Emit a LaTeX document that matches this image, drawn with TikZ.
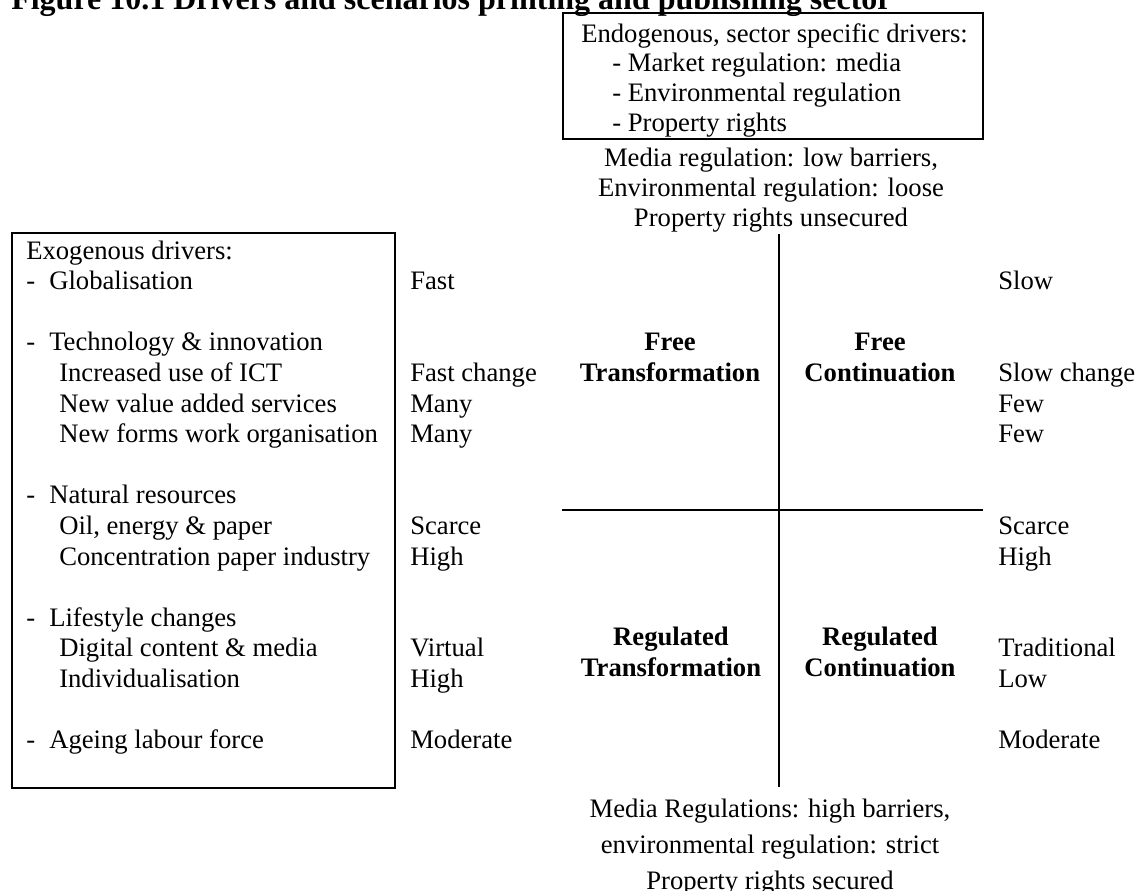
\documentclass[tikz,border=0pt]{standalone}
\usepackage{fontspec}
\setmainfont{Liberation Serif}
\usetikzlibrary{positioning,calc}
\newcommand\dsh{\makebox[17.25pt][l]{-}}
\newcommand\ind{\hspace*{24.75pt}}
\tikzset{every node/.style={inner sep=0pt,font=\fontsize{20}{22.95}\selectfont},
 txt/.style={anchor=base west,align=left},
 mid/.style={anchor=base,align=center},
 scen/.style={mid,font=\fontsize{20}{22.95}\selectfont\bfseries},
 frame/.style={draw,line width=1.5pt},
 axis/.style={line width=1.5pt}}
\begin{document}
\begin{tikzpicture}[x=0.75pt,y=-0.75pt]
\useasboundingbox (0,0) rectangle (1136,890);\clip (0,0) rectangle (1136,890);
\node[anchor=base west,font=\fontsize{24}{28}\selectfont\bfseries] (title) at (11,9) {Figure 10.1 Drivers and scenarios printing and publishing sector};
% sector drivers, top
\node[frame,minimum width=315pt,minimum height=94.7pt] (endo) at (773,75.9) {};
\node[txt,font=\fontsize{20}{22.3}\selectfont] (endotxt) at (581,131.2) {Endogenous, sector specific drivers:\\
\hspace*{23.25pt}- Market regulation: media\\
\hspace*{23.25pt}- Environmental regulation\\
\hspace*{23.25pt}- Property rights};
\node[mid,font=\fontsize{20}{22.5}\selectfont] (lo) at (771,226) {Media regulation: low barriers,\\Environmental regulation: loose\\Property rights unsecured};
% exogenous drivers, left
\node[frame,minimum width=287.5pt,minimum height=416.25pt] (exo) at (203.4,510.5) {};
\node[txt] (exotxt) at (26,748.6) {Exogenous drivers:\\
\dsh Globalisation\\[22.95pt]
\dsh Technology \& innovation\\
\ind Increased use of ICT\\
\ind New value added services\\
\ind New forms work organisation\\[22.95pt]
\dsh Natural resources\\
\ind Oil, energy \& paper\\
\ind Concentration paper industry\\[22.95pt]
\dsh Lifestyle changes\\
\ind Digital content \& media\\
\ind Individualisation\\[22.95pt]
\dsh Ageing labour force};
\node[txt] (fast) at (410,748.6) {Fast\\[45.9pt]Fast change\\Many\\Many\\[45.9pt]Scarce\\High\\[45.9pt]Virtual\\High\\[22.95pt]Moderate};
\node[txt] (slow) at (998,748.6) {Slow\\[45.9pt]Slow change\\Few\\Few\\[45.9pt]Scarce\\High\\[45.9pt]Traditional\\Low\\[22.95pt]Moderate};
% scenario cross
\coordinate (n) at (779,234);\coordinate (s) at (779,787);
\coordinate (w) at (562,510);\coordinate (e) at (983,510);
\draw[axis] (n)--(s);\draw[axis] (w)--(e);
\node[scen] (ft) at (670,381.4) {Free\\Transformation};
\node[scen] (fc) at (880,381.4) {Free\\Continuation};
\node[scen] (rt) at (671,676) {Regulated\\Transformation};
\node[scen] (rc) at (880,676) {Regulated\\Continuation};
\node[mid,font=\fontsize{20}{27}\selectfont] (hi) at (770,889) {Media Regulations: high barriers,\\environmental regulation: strict\\Property rights secured};
\end{tikzpicture}
\end{document}
